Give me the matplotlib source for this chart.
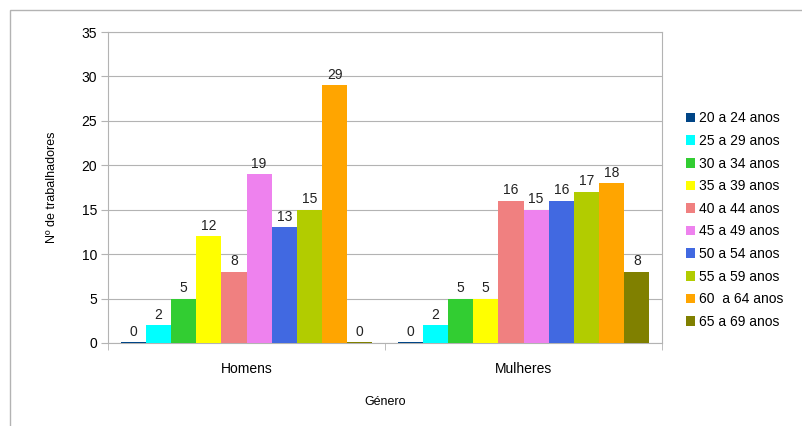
import numpy as np
import matplotlib.pyplot as plt
from matplotlib.patches import Rectangle

plt.rcParams['font.family'] = ['Liberation Sans', 'DejaVu Sans']

generos = ["Homens", "Mulheres"]
faixas = ["20 a 24 anos", "25 a 29 anos", "30 a 34 anos", "35 a 39 anos",
          "40 a 44 anos", "45 a 49 anos", "50 a 54 anos", "55 a 59 anos",
          "60  a 64 anos", "65 a 69 anos"]
homens = [0, 2, 5, 12, 8, 19, 13, 15, 29, 0]
mulheres = [0, 2, 5, 5, 16, 15, 16, 17, 18, 8]
cores = ["#004586", "#00ffff", "#32cd32", "#ffff00", "#f08080",
         "#ee82ee", "#4169e1", "#b2cc00", "#ffa500", "#808000"]

fig = plt.figure(figsize=(8.02, 4.26), dpi=100)
# moldura cinzenta do gráfico
fig.patches.append(Rectangle((10/802, -0.1), 1.2, 1 - 10/426 + 0.1,
                             transform=fig.transFigure, fill=False,
                             edgecolor="#b3b3b3", linewidth=1))
ax = fig.add_axes([108/802, 1 - 343/426, (662-108)/802, (343-32)/426])

n = len(faixas)
w = 1 / (n + 1)
x = np.arange(len(generos))
for i in range(n):
    vals = [homens[i], mulheres[i]]
    pos = x - n * w / 2 + w * i + w / 2
    h = [v if v > 0 else 0.12 for v in vals]
    ax.bar(pos, h, width=w, color=cores[i], label=faixas[i], zorder=3)
    for p, v in zip(pos, vals):
        ax.text(p, v + 0.4, str(v), ha="center", va="bottom", fontsize=10,
                color="#222222")

ax.set_xlim(-0.5, 1.5)
ax.set_ylim(0, 35)
ax.set_yticks(range(0, 36, 5))
ax.set_xticks(x)
ax.set_xticklabels(generos, fontsize=10)
ax.set_xticks([-0.5, 0.5, 1.5], minor=True)
ax.tick_params(axis="x", which="major", length=0, pad=14)
ax.tick_params(axis="x", which="minor", length=5, color="#b3b3b3")
ax.tick_params(axis="y", length=5, color="#b3b3b3", labelsize=10, pad=3)
ax.grid(axis="y", color="#b3b3b3", linewidth=0.8, zorder=0)
for s in ax.spines.values():
    s.set_color("#b3b3b3")
ax.set_ylabel("Nº de trabalhadores", fontsize=9, labelpad=17)
ax.set_xlabel("Género", fontsize=9, labelpad=14)

ax.legend(loc="center left", bbox_to_anchor=(1.02, 0.395), frameon=False,
          fontsize=10, handlelength=0.7, handleheight=0.7, handletextpad=0.3,
          labelspacing=0.62)

fig.savefig("out.png", dpi=100)
